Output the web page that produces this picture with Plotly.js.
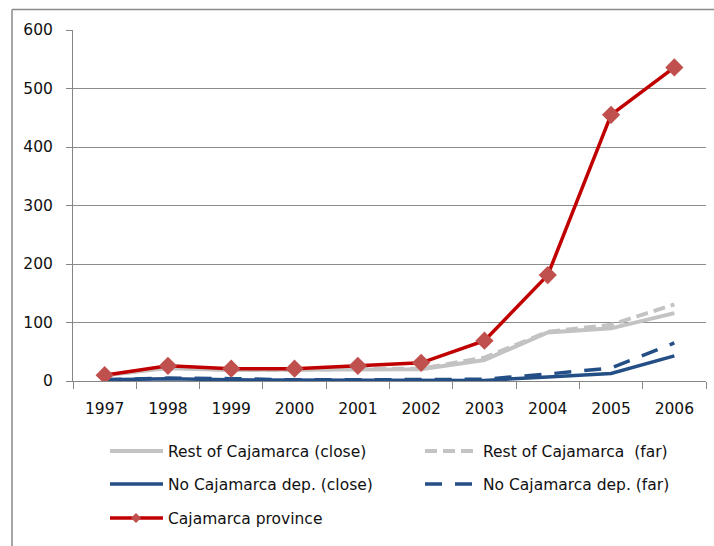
<!DOCTYPE html>
<html>
<head>
<meta charset="utf-8">
<script src="https://cdn.plot.ly/plotly-3.0.1.min.js"></script>
<style>
html,body{margin:0;padding:0;background:#fff;}
#chart{width:714px;height:546px;}
</style>
</head>
<body>
<div id="chart"></div>
<script>
// ---- data ----
const years = ["1997","1998","1999","2000","2001","2002","2003","2004","2005","2006"];
const restClose = [10, 22, 19, 19, 20, 20, 36, 83, 90, 116];
const restFar   = [10, 23, 19, 19, 21, 21, 40, 84, 96, 131];
const noCajClose = [2, 4, 2, 2, 2, 2, 1, 7, 13, 43];
const noCajFar   = [2, 5, 4, 2, 2, 2, 3, 12, 22, 65];
const province   = [10, 26, 21, 21, 26, 31, 69, 181, 455, 536];
const seriesNames = ["Rest of Cajamarca (close)", "Rest of Cajamarca  (far)",
  "No Cajamarca dep. (close)", "No Cajamarca dep. (far)", "Cajamarca province"];

// ---- styles ----
const GRAY = "#c3c3c3", BLUE = "#244f86", RED = "#c00000", MRED = "#c0504d";
const styles = [
  {color: GRAY, width: 4, dash: "solid"},
  {color: GRAY, width: 4, dash: "12px,6px"},
  {color: BLUE, width: 3.5, dash: "solid"},
  {color: BLUE, width: 3.5, dash: "17px,13px"},
  {color: RED, width: 3.5, dash: "solid"}
];
const values = [restClose, restFar, noCajClose, noCajFar, province];

const traces = values.map((v, i) => {
  const t = {
    x: years, y: v, type: "scatter", mode: "lines", name: seriesNames[i],
    line: {color: styles[i].color, width: styles[i].width, dash: styles[i].dash},
    showlegend: false, hoverinfo: "x+y"
  };
  if (i === 4) {
    t.mode = "lines+markers";
    t.marker = {symbol: "diamond", size: 14, color: MRED};
  }
  return t;
});

// plot area in pixels
const L = 73, R = 706, T = 30, B = 381;
const W = 714, H = 546;
const px = x => (x - L) / (R - L);
const py = y => (B - y) / (B - T);

const FONT = "DejaVu Sans, Open Sans, sans-serif";
const FS = 15.5;
const shapes = [];
const annotations = [];

// outer border (top & left)
shapes.push({type: "line", xref: "paper", yref: "paper", x0: px(12), x1: px(W + 5), y0: py(9.5), y1: py(9.5), line: {color: "#8a8a8a", width: 1.5}});
shapes.push({type: "line", xref: "paper", yref: "paper", x0: px(12), x1: px(12), y0: py(9.5), y1: py(H + 5), line: {color: "#8a8a8a", width: 1.5}});

// manual legend
const legPos = [
  {x: 110, y: 451}, {x: 425, y: 451},
  {x: 110, y: 484}, {x: 425, y: 484},
  {x: 110, y: 518}
];
const sampleLen = [53, 48, 53, 48, 53];
legPos.forEach((p, i) => {
  const s = styles[i];
  shapes.push({type: "line", xref: "paper", yref: "paper",
    x0: px(p.x), x1: px(p.x + sampleLen[i]), y0: py(p.y), y1: py(p.y),
    line: {color: s.color, width: s.width, dash: s.dash}});
  if (i === 4) {
    const cx = p.x + 26, cy = p.y, r = 5;
    shapes.push({type: "path", xref: "paper", yref: "paper",
      path: `M ${px(cx)},${py(cy - r)} L ${px(cx + r)},${py(cy)} L ${px(cx)},${py(cy + r)} L ${px(cx - r)},${py(cy)} Z`,
      fillcolor: MRED, line: {width: 0}});
  }
  annotations.push({xref: "paper", yref: "paper", x: px(i % 2 === 0 ? 166 : 481), y: py(p.y + 1),
    xanchor: "left", yanchor: "middle", showarrow: false, text: seriesNames[i],
    font: {family: FONT, size: FS, color: "#111"}});
});

const layout = {
  width: W, height: H,
  margin: {l: L, r: W - R, t: T, b: H - B, pad: 0},
  paper_bgcolor: "#fff", plot_bgcolor: "#fff",
  font: {family: FONT, size: FS, color: "#111"},
  xaxis: {
    type: "category", tickson: "boundaries", ticks: "outside", ticklen: 7, tickcolor: "#868686", tickwidth: 1,
    showline: true, linecolor: "#868686", linewidth: 1, showgrid: false, zeroline: false,
    range: [-0.5, 9.5], ticklabelstandoff: 13, tickfont: {family: FONT, size: FS, color: "#111"}
  },
  yaxis: {
    range: [0, 600], dtick: 100, tick0: 0, ticks: "outside", ticklen: 6, tickcolor: "#868686",
    showline: true, linecolor: "#868686", linewidth: 1,
    showgrid: true, gridcolor: "#8c8c8c", gridwidth: 1, zeroline: false,
    ticklabelstandoff: 10, tickfont: {family: FONT, size: FS, color: "#111"}
  },
  shapes: shapes,
  annotations: annotations,
  showlegend: false
};

Plotly.newPlot("chart", traces, layout, {displayModeBar: false, staticPlot: true});
</script>
</body>
</html>
